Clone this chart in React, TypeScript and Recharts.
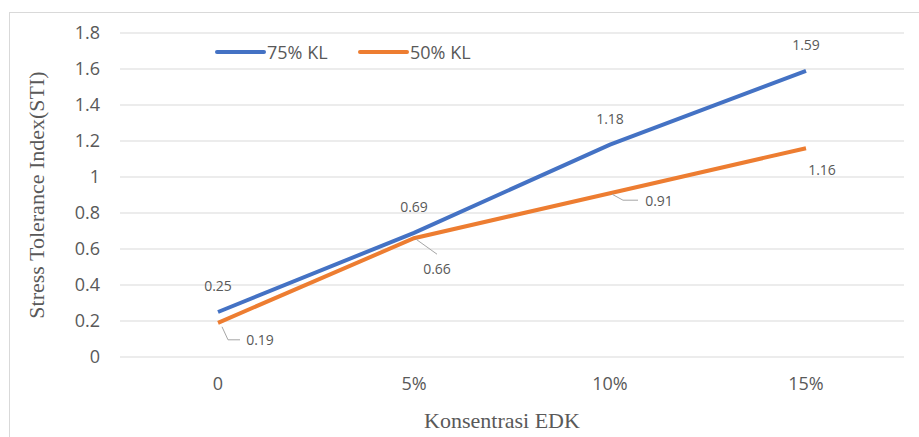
import React from 'react';
import { LineChart, Line, XAxis, YAxis, CartesianGrid, LabelList, Legend } from 'recharts';

const categories = ['0', '5%', '10%', '15%'];
const kl75 = [0.25, 0.69, 1.18, 1.59];
const kl50 = [0.19, 0.66, 0.91, 1.16];
const yTicks = [0, 0.2, 0.4, 0.6, 0.8, 1, 1.2, 1.4, 1.6, 1.8];
const seriesNames = ['75% KL', '50% KL'];
const yTitle = 'Stress Tolerance Index(STI)';
const xTitle = 'Konsentrasi EDK';

const data = categories.map((c, i) => ({ cat: c, kl75: kl75[i], kl50: kl50[i] }));

const BLUE = '#4472C4';
const ORANGE = '#ED7D31';
const TEXT = '#595959';
const SANS = '"Open Sans", "Noto Sans", sans-serif';
const SERIF = '"Liberation Serif", "DejaVu Serif", serif';

// label placements (relative to point) for the 50% series
const place50 = [
  { dx: 42, dy: 17, leader: [[4, 4], [10, 17], [22, 17]] },
  { dx: 23, dy: 31, leader: [[2, 1], [23, 16]] },
  { dx: 49, dy: 8, leader: [[2, 1], [13, 7], [28, 7]] },
  { dx: 16, dy: 22, leader: null as number[][] | null },
];

const Label75 = (p: any) => {
  const { x, y, value } = p;
  return (
    <text x={x} y={y - 26 + 5} textAnchor="middle" fontFamily={SANS} fontSize={14} fill={TEXT}>
      {String(value)}
    </text>
  );
};

const Label50 = (p: any) => {
  const { x, y, value, index } = p;
  const pl = place50[index];
  return (
    <g>
      {pl.leader && (
        <polyline
          points={pl.leader.map((q) => `${x + q[0]},${y + q[1]}`).join(' ')}
          fill="none"
          stroke="#a6a6a6"
          strokeWidth={1}
        />
      )}
      <text x={x + pl.dx} y={y + pl.dy + 5} textAnchor="middle" fontFamily={SANS} fontSize={14} fill={TEXT}>
        {String(value)}
      </text>
    </g>
  );
};

const legendX = [215, 358];

const renderLegend = (props: any) => {
  const payload = [...(props.payload || [])].sort(
    (a: any, b: any) => seriesNames.indexOf(a.value) - seriesNames.indexOf(b.value)
  );
  return (
    <div style={{ position: 'relative', height: 0 }}>
      {payload.map((it: any, i: number) => (
        <div
          key={i}
          style={{
            position: 'absolute',
            left: legendX[i],
            top: 40,
            height: 24,
            display: 'flex',
            alignItems: 'center',
            whiteSpace: 'nowrap',
          }}
        >
          <svg width={51} height={8} style={{ display: 'block' }}>
            <line x1={2} y1={4} x2={49} y2={4} stroke={it.color} strokeWidth={4} strokeLinecap="round" />
          </svg>
          <span style={{ marginLeft: 1, fontFamily: SANS, fontSize: 18, color: TEXT, lineHeight: '24px' }}>
            {it.value}
          </span>
        </div>
      ))}
    </div>
  );
};

const renderXTitle = () => (
  <text x={502} y={428} textAnchor="middle" fontFamily={SERIF} fontSize={22} fill={TEXT}>
    {xTitle}
  </text>
);

export default function App() {
  return (
    <div style={{ position: 'absolute', left: 0, top: 0, width: 919, height: 437, overflow: 'hidden', background: '#fff' }}>
      <div
        style={{
          position: 'absolute',
          left: 9,
          top: 12,
          width: 1000,
          height: 1000,
          border: '1px solid #d9d9d9',
          boxSizing: 'border-box',
        }}
      />
      <div style={{ position: 'absolute', left: 0, top: 0 }}>
        <LineChart width={919} height={437} data={data} margin={{ top: 33, right: 15, left: 0, bottom: 0 }}>
          <CartesianGrid vertical={false} stroke="#d9d9d9" strokeWidth={1.2} />
          <XAxis
            dataKey="cat"
            height={80}
            padding={{ left: 98, right: 98 }}
            axisLine={false}
            tickLine={false}
            tickSize={0}
            tickMargin={20}
            tick={{ fontFamily: SANS, fontSize: 18, fill: TEXT }}
            label={{ content: renderXTitle }}
          />
          <YAxis
            width={120}
            domain={[0, 1.8]}
            ticks={yTicks}
            interval={0}
            axisLine={false}
            tickLine={false}
            tickSize={0}
            tickMargin={20}
            tick={{ fontFamily: SANS, fontSize: 18, fill: TEXT }}
            tickFormatter={(v: number) => String(v)}
            label={{
              value: yTitle,
              angle: -90,
              position: 'insideLeft',
              offset: 36,
              style: { textAnchor: 'middle', fontFamily: SERIF, fontSize: 22, fill: TEXT },
            }}
          />
          <Legend
            verticalAlign="top"
            content={renderLegend}
            wrapperStyle={{ left: 0, top: 0, width: 919, height: 0 }}
          />
          <Line
            type="linear"
            dataKey="kl50"
            name={seriesNames[1]}
            stroke={ORANGE}
            strokeWidth={4}
            dot={false}
            activeDot={false}
            isAnimationActive={false}
          >
            <LabelList dataKey="kl50" content={Label50} />
          </Line>
          <Line
            type="linear"
            dataKey="kl75"
            name={seriesNames[0]}
            stroke={BLUE}
            strokeWidth={4}
            dot={false}
            activeDot={false}
            isAnimationActive={false}
          >
            <LabelList dataKey="kl75" content={Label75} />
          </Line>
        </LineChart>
      </div>
    </div>
  );
}
